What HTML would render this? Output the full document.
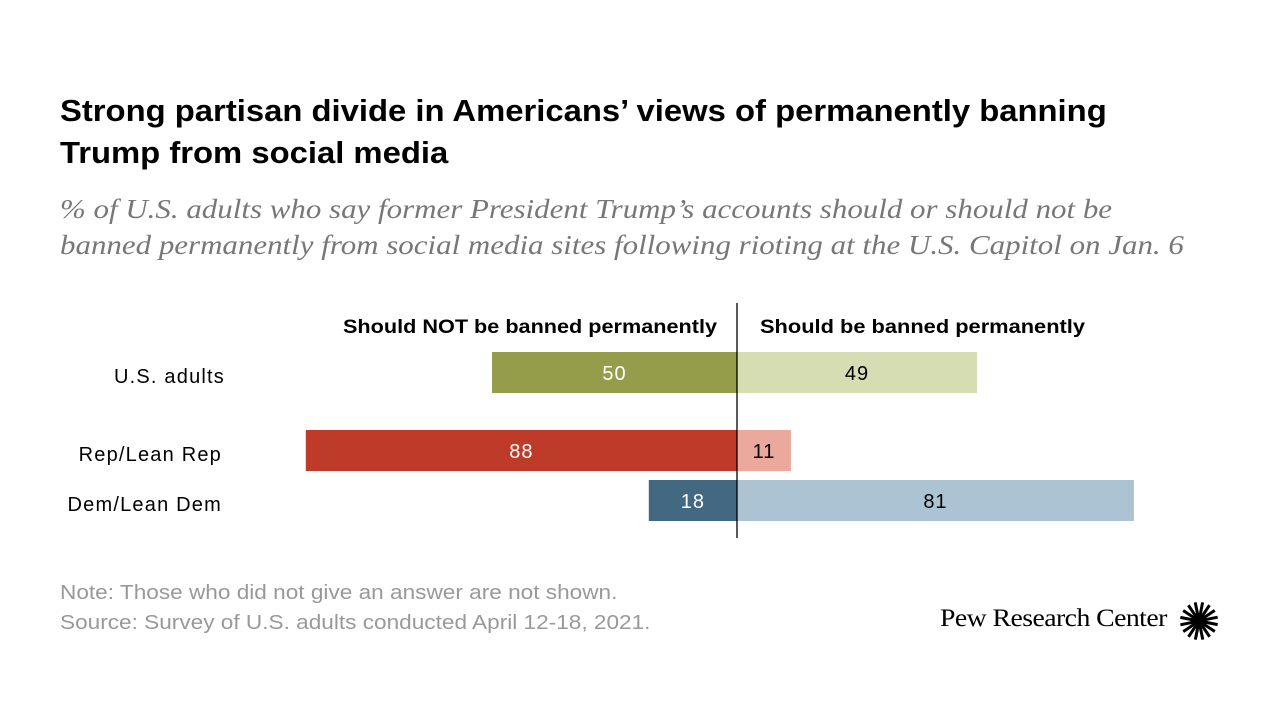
<!DOCTYPE html>
<html><head><meta charset="utf-8"><style>
body{margin:0;width:1280px;height:720px;background:#fff;position:relative;overflow:hidden;font-family:"Liberation Sans",sans-serif}
.t{position:absolute;white-space:nowrap;transform-origin:0 0}
</style></head><body>
<div class="t" style="left:60px;top:90px;font-size:31px;font-weight:bold;line-height:42px;color:#000;transform:scaleX(1.058)">Strong partisan divide in Americans’ views of permanently banning<br>Trump from social media</div>
<div class="t" style="left:60px;top:191px;font-family:'Liberation Serif',serif;font-style:italic;font-size:27px;line-height:36px;color:#777;transform:scaleX(1.146)">% of U.S. adults who say former President Trump’s accounts should or should not be<br>banned permanently from social media sites following rioting at the U.S. Capitol on Jan. 6</div>
<svg id="chart" width="1280" height="720" style="position:absolute;left:0;top:0"></svg>
<div class="t" style="left:60px;top:578px;font-size:20px;line-height:30px;color:#999;transform:scaleX(1.13)">Note: Those who did not give an answer are not shown.<br>Source: Survey of U.S. adults conducted April 12-18, 2021.</div>
<div class="t" style="left:940px;top:605px;font-family:'Liberation Serif',serif;font-size:25px;color:#000;letter-spacing:-0.5px;transform:scaleX(1.11)">Pew Research Center</div>
<svg width="42" height="42" style="position:absolute;left:1178px;top:600px" viewBox="-21 -21 42 42" id="logo"></svg>
<script>
const categories=["U.S. adults","Rep/Lean Rep","Dem/Lean Dem"];
const notBanned=[50,88,18];
const banned=[49,11,81];
const NS="http://www.w3.org/2000/svg";
const svg=document.getElementById('chart');
const cx=737, k=4.9;
const x=v=>v*k;
const rowY=[352,430,480], bh=41;
const darkC=["#969d4a","#be3a29","#436882"], lightC=["#d6ddb3","#eaa99c","#abc3d3"];
function mk(tag,a){const e=document.createElementNS(NS,tag);for(const q in a)e.setAttribute(q,a[q]);svg.appendChild(e);return e;}
categories.forEach((c,i)=>{
  const y=rowY[i];
  const r1=mk('rect',{x:cx-x(notBanned[i]),y:y,width:x(notBanned[i]),height:bh,fill:darkC[i]});
  
  
  const r2=mk('rect',{x:cx,y:y,width:x(banned[i]),height:bh,fill:lightC[i]});
  
  
  const t1=mk('text',{x:cx-x(notBanned[i])/2,y:y+28,'text-anchor':'middle','font-size':20,fill:'#fff','font-family':'Liberation Sans','letter-spacing':1});t1.textContent=notBanned[i];
  
  
  const t2=mk('text',{x:cx+Math.max(x(banned[i])/2,26),y:y+28,'text-anchor':'middle','font-size':20,fill:'#000','font-family':'Liberation Sans','letter-spacing':1});t2.textContent=banned[i];
  
  
  const l=mk('text',{x:[225,222,222][i],y:y+31,'text-anchor':'end','font-size':20,fill:'#000','font-family':'Liberation Sans','letter-spacing':1.2});l.textContent=c;
  
  
});
const ax=mk('line',{x1:cx,x2:cx,y1:303,y2:538,stroke:'#000','stroke-width':1.3});


const h1=mk('text',{x:343,y:333,'font-size':19,'font-weight':'bold','font-family':'Liberation Sans',textLength:374,lengthAdjust:'spacingAndGlyphs'});h1.textContent="Should NOT be banned permanently";


const h2=mk('text',{x:760,y:333,'font-size':19,'font-weight':'bold','font-family':'Liberation Sans',textLength:325,lengthAdjust:'spacingAndGlyphs'});h2.textContent="Should be banned permanently";


const lg=document.getElementById('logo');
for(let a=0;a<16;a++){const ang=(a*22.5+11)*Math.PI/180;const p=document.createElementNS(NS,'line');
p.setAttribute('x1',Math.cos(ang)*4);p.setAttribute('y1',Math.sin(ang)*4);p.setAttribute('x2',Math.cos(ang)*19);p.setAttribute('y2',Math.sin(ang)*19);
p.setAttribute('stroke','#000');p.setAttribute('stroke-width','3');lg.appendChild(p);}
const cc=document.createElementNS(NS,'circle');cc.setAttribute('r','5');lg.appendChild(cc);
</script>
</body></html>
